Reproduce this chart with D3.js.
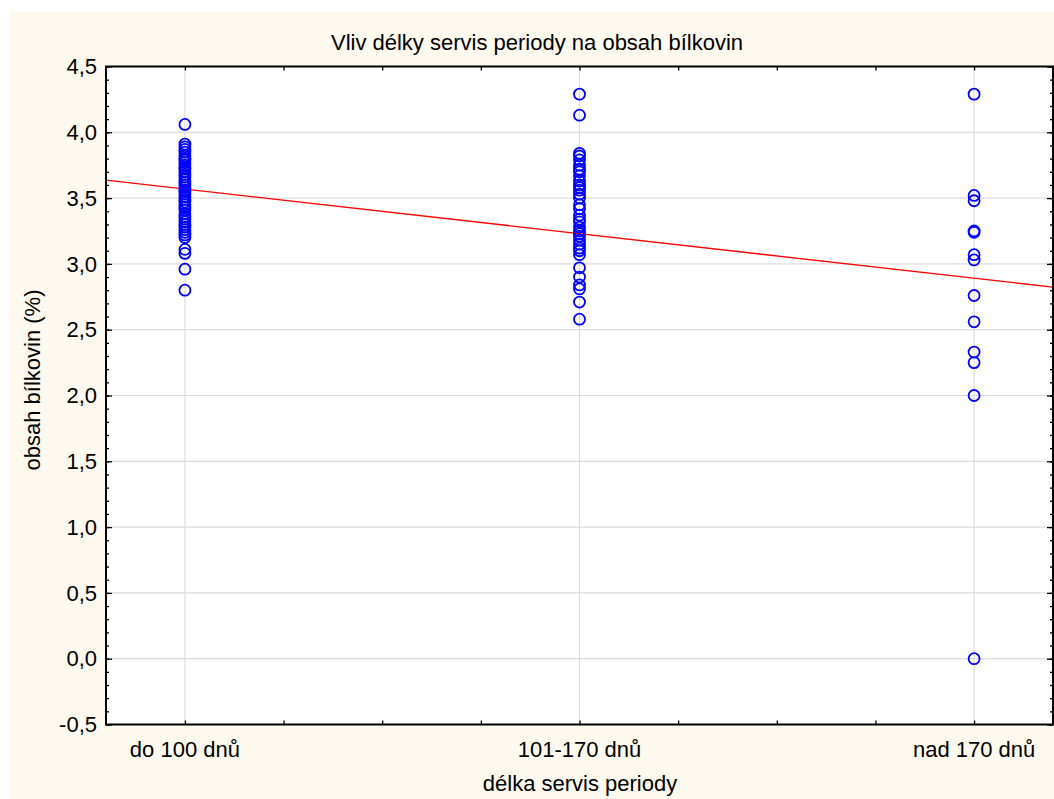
<!DOCTYPE html>
<html>
<head>
<meta charset="utf-8">
<script src="https://cdn.jsdelivr.net/npm/d3@7/dist/d3.min.js"></script>
<style>
  html, body { margin: 0; padding: 0; background: #ffffff; }
  svg { display: block; font-family: "Liberation Sans", Arial, sans-serif; }
</style>
</head>
<body>
<svg id="chart" width="1054" height="799"></svg>
<script>
// Category positions on the numeric x axis
const categories = ["do 100 dnů", "101-170 dnů", "nad 170 dnů"];
const categoryX = [1, 2, 3];

// Protein content (%) per service-period group
const group1 = [4.06, 3.91, 3.89, 3.87, 3.85, 3.82, 3.80, 3.79, 3.77, 3.75, 3.73, 3.72,
  3.70, 3.68, 3.66, 3.64, 3.62, 3.60, 3.58, 3.56, 3.55, 3.53, 3.51, 3.49, 3.47, 3.45,
  3.43, 3.41, 3.38, 3.36, 3.34, 3.32, 3.30, 3.28, 3.26, 3.24, 3.22, 3.20, 3.11, 3.08,
  2.96, 2.80];
const group2 = [4.29, 4.13, 3.84, 3.82, 3.79, 3.75, 3.72, 3.70, 3.67, 3.63, 3.60, 3.58,
  3.56, 3.53, 3.50, 3.45, 3.42, 3.37, 3.34, 3.32, 3.28, 3.25, 3.23, 3.21, 3.18, 3.15,
  3.12, 3.10, 3.07, 2.97, 2.90, 2.84, 2.81, 2.71, 2.58];
const group3 = [4.29, 3.52, 3.48, 3.25, 3.24, 3.07, 3.03, 2.76, 2.56, 2.33, 2.25, 2.00, 0.00];
const groups = [group1, group2, group3];

// Fitted linear trend: intercept and slope on the category axis
const trendIntercept = 3.908;
const trendSlope = -0.339;

// Axis tick values
const yTicks = [-0.5, 0.0, 0.5, 1.0, 1.5, 2.0, 2.5, 3.0, 3.5, 4.0, 4.5];
const xDomain = [0.8, 3.2];
const yDomain = [-0.5, 4.5];

const svg = d3.select("#chart");
const W = 1054, H = 799;
const plot = { left: 106, right: 1053, top: 66.5, bottom: 724.5 };
const FONT = 22;

// Cream page background
svg.append("rect").attr("x", 9).attr("y", 12).attr("width", W - 9).attr("height", H - 12)
  .attr("fill", "#fdf9ef");
svg.append("rect").attr("x", plot.left).attr("y", plot.top)
  .attr("width", plot.right - plot.left).attr("height", plot.bottom - plot.top)
  .attr("fill", "#ffffff");

const x = d3.scaleLinear().domain(xDomain).range([plot.left, plot.right]);
const y = d3.scaleLinear().domain(yDomain).range([plot.bottom, plot.top]);

// Grid lines
const grid = svg.append("g").attr("stroke", "#dcdcdc").attr("stroke-width", 1.2);
grid.selectAll("line.h").data(yTicks.slice(1, -1)).join("line")
  .attr("x1", plot.left).attr("x2", plot.right)
  .attr("y1", d => y(d)).attr("y2", d => y(d));
grid.selectAll("line.v").data(categoryX).join("line")
  .attr("x1", d => x(d)).attr("x2", d => x(d))
  .attr("y1", plot.top).attr("y2", plot.bottom);

// Trend line, clipped to plot
svg.append("clipPath").attr("id", "clip").append("rect")
  .attr("x", plot.left).attr("y", plot.top)
  .attr("width", plot.right - plot.left).attr("height", plot.bottom - plot.top);
svg.append("line").attr("clip-path", "url(#clip)")
  .attr("x1", x(xDomain[0])).attr("y1", y(trendIntercept + trendSlope * xDomain[0]))
  .attr("x2", x(xDomain[1])).attr("y2", y(trendIntercept + trendSlope * xDomain[1]))
  .attr("stroke", "#ff0000").attr("stroke-width", 1.3);

// Data points
const points = groups.flatMap((g, i) => g.map(v => ({ cx: categoryX[i], v })));
svg.append("g").selectAll("circle").data(points).join("circle")
  .attr("cx", d => x(d.cx)).attr("cy", d => y(d.v)).attr("r", 5.5)
  .attr("fill", "none").attr("stroke", "#0000ff").attr("stroke-width", 1.8);

// Axes: inward ticks on all four sides
const minorY = d3.range(-0.5, 4.5001, 0.1).map(v => +v.toFixed(2));
const minorX = d3.range(1, 3.2001, 0.25);

svg.append("g").attr("transform", `translate(${plot.left},0)`)
  .call(d3.axisRight(y).tickValues(minorY).tickSize(3).tickFormat(""))
  .call(g => g.select(".domain").remove());
svg.append("g").attr("transform", `translate(${plot.left},0)`)
  .call(d3.axisRight(y).tickValues(yTicks).tickSize(6).tickFormat(""))
  .call(g => g.select(".domain").remove());
svg.append("g").attr("transform", `translate(${plot.right},0)`)
  .call(d3.axisLeft(y).tickValues(minorY).tickSize(3).tickFormat(""))
  .call(g => g.select(".domain").remove());
svg.append("g").attr("transform", `translate(${plot.right},0)`)
  .call(d3.axisLeft(y).tickValues(yTicks).tickSize(6).tickFormat(""))
  .call(g => g.select(".domain").remove());
svg.append("g").attr("transform", `translate(0,${plot.bottom})`)
  .call(d3.axisTop(x).tickValues(minorX).tickSize(4).tickFormat(""))
  .call(g => g.select(".domain").remove());
svg.append("g").attr("transform", `translate(0,${plot.top})`)
  .call(d3.axisBottom(x).tickValues(minorX).tickSize(4).tickFormat(""))
  .call(g => g.select(".domain").remove());
svg.selectAll(".tick line").attr("stroke", "#000").attr("stroke-width", 1.3);

// Y tick labels
const fmt = v => d3.format(".1f")(v).replace(".", ",").replace("−", "-");
svg.append("g").selectAll("text").data(yTicks).join("text")
  .attr("x", plot.left - 9).attr("y", d => y(d)).attr("dy", "0.35em")
  .attr("text-anchor", "end").attr("font-size", FONT).attr("fill", "#000")
  .text(fmt);

// X category labels
svg.append("g").selectAll("text").data(categories).join("text")
  .attr("x", (d, i) => x(categoryX[i])).attr("y", 757)
  .attr("text-anchor", "middle").attr("font-size", FONT).attr("fill", "#000")
  .text(d => d);

// Frame
svg.append("rect").attr("x", plot.left).attr("y", plot.top)
  .attr("width", plot.right - plot.left).attr("height", plot.bottom - plot.top)
  .attr("fill", "none").attr("stroke", "#000").attr("stroke-width", 2);

// Titles
svg.append("text").attr("x", 537).attr("y", 50).attr("text-anchor", "middle")
  .attr("font-size", FONT).attr("fill", "#000")
  .text("Vliv délky servis periody na obsah bílkovin");
svg.append("text").attr("x", 580).attr("y", 791).attr("text-anchor", "middle")
  .attr("font-size", FONT).attr("fill", "#000")
  .text("délka servis periody");
svg.append("text").attr("transform", "translate(40,380) rotate(-90)")
  .attr("text-anchor", "middle").attr("font-size", FONT).attr("fill", "#000")
  .text("obsah bílkovin (%)");
</script>
</body>
</html>
